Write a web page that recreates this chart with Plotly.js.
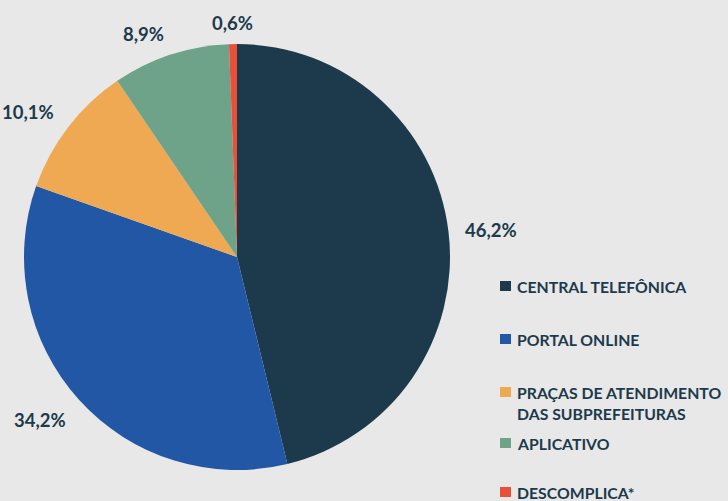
<!DOCTYPE html>
<html><head><meta charset="utf-8">
<script src="https://cdn.plot.ly/plotly-3.0.1.min.js"></script>
<style>html,body{margin:0;padding:0;background:#e8e8e8;}</style>
</head><body>
<div id="chart" style="width:728px;height:501px;"></div>
<script>
const categories = ["CENTRAL TELEFÔNICA", "PORTAL ONLINE", "PRAÇAS DE ATENDIMENTO<br>DAS SUBPREFEITURAS", "APLICATIVO", "DESCOMPLICA*"];
const values = [46.2, 34.2, 10.1, 8.9, 0.6];
const labelsText = ["46,2%", "34,2%", "10,1%", "8,9%", "0,6%"];
const colors = ["#1c3a4b", "#2257a6", "#efa952", "#6ea38a", "#e8503a"];

const W = 728, H = 501;
const cx = 237, cy = 257, R = 213;
const textColor = "#1c3a4b";
const font = "Lato, 'Open Sans', sans-serif";

const annotations = [];
const shapes = [];
// percentage labels placed from slice angles
const total = values.reduce((a, b) => a + b, 0);
let cum = 0;
values.forEach((v, i) => {
  const mid = (cum + v / 2) / total * 2 * Math.PI;
  cum += v;
  const s = Math.sin(mid), c = Math.cos(mid);
  const r = R + 15;
  const px = cx + s * r, py = cy - c * r;
  let xa = Math.abs(s) < 0.2 ? "center" : (s > 0 ? "left" : "right");
  let ya = Math.abs(c) < 0.2 ? "middle" : (c > 0 ? "bottom" : "top");
  let ys = ya === "bottom" ? -7 : (ya === "top" ? 3 : 0);
  annotations.push({
    x: px / W, y: 1 - py / H, xref: "paper", yref: "paper",
    text: labelsText[i], showarrow: false, xanchor: xa, yanchor: ya, yshift: ys,
    font: {family: font, size: 18.5, color: textColor, weight: 700}
  });
});
// legend
const legendRows = [286, 339, 392, 443, 492];
categories.forEach((cat, i) => {
  const y = legendRows[i];
  shapes.push({type: "rect", xref: "paper", yref: "paper",
    x0: 500 / W, x1: 511 / W, y0: 1 - (y - 5) / H, y1: 1 - (y + 5) / H,
    fillcolor: colors[i], line: {width: 0}});
  annotations.push({
    x: 515 / W, y: 1 - (y - 11) / H, xref: "paper", yref: "paper",
    text: cat, showarrow: false, xanchor: "left", yanchor: "top", align: "left",
    font: {family: font, size: 15.8, color: textColor, weight: 700}
  });
});

const data = [{
  type: "pie",
  values: values,
  labels: categories,
  marker: {colors: colors, line: {width: 0}},
  sort: false,
  direction: "clockwise",
  rotation: 0,
  textinfo: "none",
  hoverinfo: "label+percent",
  showlegend: false,
  domain: {x: [(cx - R) / W, (cx + R) / W], y: [1 - (cy + R) / H, 1 - (cy - R) / H]}
}];

const layout = {
  width: W, height: H,
  margin: {l: 0, r: 0, t: 0, b: 0},
  paper_bgcolor: "#e8e8e8",
  plot_bgcolor: "#e8e8e8",
  showlegend: false,
  annotations: annotations,
  shapes: shapes
};
Plotly.newPlot("chart", data, layout, {displayModeBar: false});
</script>
</body></html>
